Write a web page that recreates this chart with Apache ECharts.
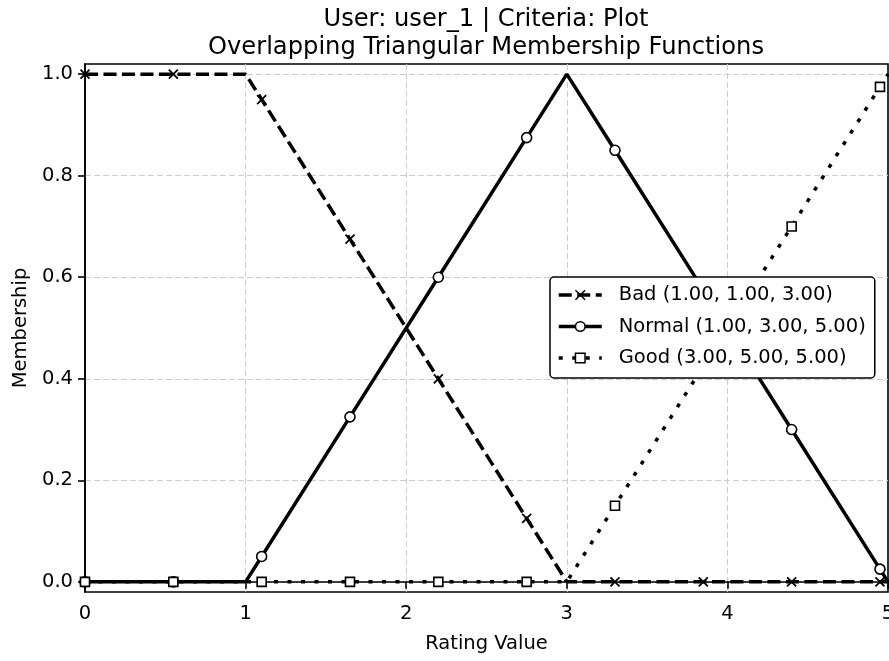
<!DOCTYPE html>
<html>
<head>
<meta charset="utf-8">
<script src="https://cdn.jsdelivr.net/npm/echarts@6/dist/echarts.min.js"></script>
<style>
html,body{margin:0;padding:0;background:#fff;}
#chart{width:889px;height:661px;}
</style>
</head>
<body>
<div id="chart"></div>
<script>
// ---- data ----
const titleLines = ['User: user_1 | Criteria: Plot', 'Overlapping Triangular Membership Functions'];
const seriesNames = ['Bad (1.00, 1.00, 3.00)', 'Normal (1.00, 3.00, 5.00)', 'Good (3.00, 5.00, 5.00)'];
const xTicks = [0, 1, 2, 3, 4, 5];
const yTicks = [0, 0.2, 0.4, 0.6, 0.8, 1.0];
// marker positions (x) and values
const markerX = [0, 0.55, 1.1, 1.65, 2.2, 2.75, 3.3, 3.85, 4.4, 4.95];
const badMarkers = [1, 1, 0.95, 0.675, 0.4, 0.125, 0, 0, 0, 0];
const normalMarkers = [0, 0, 0.05, 0.325, 0.6, 0.875, 0.85, 0.575, 0.3, 0.025];
const goodMarkers = [0, 0, 0, 0, 0, 0, 0.15, 0.425, 0.7, 0.975];
// line vertices (corners of the piecewise-linear curves)
const badVertices = [[0, 1], [1, 1], [3, 0], [5, 0]];
const normalVertices = [[0, 0], [1, 0], [3, 1], [5, 0]];
const goodVertices = [[0, 0], [3, 0], [5, 1]];

function buildData(vertices, markerValues) {
  const pts = [];
  markerX.forEach((x, i) => pts.push({ x: x, y: markerValues[i], marker: true }));
  vertices.forEach(v => {
    if (!markerX.some(mx => Math.abs(mx - v[0]) < 1e-9)) pts.push({ x: v[0], y: v[1], marker: false });
  });
  pts.sort((a, b) => a.x - b.x);
  return pts.map(p => p.marker ? { value: [p.x, p.y] } : { value: [p.x, p.y], symbol: 'none' });
}

const FONT = 'DejaVu Sans';
const xMark = 'path://M0,0L10,10M10,0L0,10';

const chart = echarts.init(document.getElementById('chart'), null, { renderer: 'canvas' });
chart.setOption({
  animation: false,
  backgroundColor: '#fff',
  title: {
    text: titleLines.join('\n'),
    left: 481,
    top: 1,
    textAlign: 'center',
    textStyle: { fontFamily: FONT, fontSize: 24.2, fontWeight: 'normal', color: '#000', lineHeight: 28 }
  },
  grid: {
    left: 85, top: 64, width: 803, height: 528,
    outerBoundsMode: 'none',
    containLabel: false,
    show: true, borderColor: '#000', borderWidth: 1.6, backgroundColor: 'transparent'
  },
  legend: {
    orient: 'vertical',
    left: 550,
    top: 277,
    z: 20,
    padding: [8, 9, 10, 7],
    itemWidth: 43,
    itemHeight: 12,
    itemGap: 11.5,
    backgroundColor: '#fff',
    borderColor: '#000',
    borderWidth: 1.5,
    borderRadius: 4,
    textStyle: { fontFamily: FONT, fontSize: 19.5, color: '#000', lineHeight: 20, padding: [0, 0, 0, 12] },
    lineStyle: { width: 3.5 },
    itemStyle: { borderWidth: 1.5 },
    data: seriesNames
  },
  xAxis: {
    type: 'value',
    min: 0, max: 5, interval: 1,
    name: 'Rating Value',
    nameLocation: 'middle',
    nameGap: 42,
    nameTextStyle: { fontFamily: FONT, fontSize: 19.5, color: '#000' },
    axisLine: { show: true, lineStyle: { color: '#000', width: 1.6 } },
    axisTick: { show: true, length: 7, lineStyle: { color: '#000', width: 1.6 } },
    axisLabel: { fontFamily: FONT, fontSize: 19.5, color: '#000', margin: 12, showMaxLabel: true, showMinLabel: true },
    splitLine: { show: true, showMinLine: false, showMaxLine: false, lineStyle: { color: '#cccccc', width: 1, type: [6, 3] } }
  },
  yAxis: {
    type: 'value',
    min: -0.02, max: 1.02,
    name: 'Membership',
    nameLocation: 'middle',
    nameGap: 54,
    nameTextStyle: { fontFamily: FONT, fontSize: 19.5, color: '#000' },
    axisLine: { show: true, onZero: false, lineStyle: { color: '#000', width: 1.6 } },
    axisTick: { show: true, length: 7, lineStyle: { color: '#000', width: 1.6 }, customValues: yTicks },
    axisLabel: { fontFamily: FONT, fontSize: 19.5, color: '#000', margin: 12, customValues: yTicks,
      formatter: v => v.toFixed(1) },
    splitLine: { show: true, lineStyle: { color: '#cccccc', width: 1, type: [6, 3] } }
  },
  series: [
    {
      name: seriesNames[0], type: 'line',
      data: buildData(badVertices, badMarkers),
      symbol: xMark, symbolSize: 9, showSymbol: true, showAllSymbol: true,
      lineStyle: { color: '#000', width: 3.5, type: [13, 5.5] },
      itemStyle: { color: '#000', borderColor: '#000', borderWidth: 1.8 },
      z: 2
    },
    {
      name: seriesNames[1], type: 'line',
      data: buildData(normalVertices, normalMarkers),
      symbol: 'circle', symbolSize: 10, showSymbol: true, showAllSymbol: true,
      lineStyle: { color: '#000', width: 3.5, type: 'solid' },
      itemStyle: { color: '#fff', borderColor: '#000', borderWidth: 1.6 },
      z: 3
    },
    {
      name: seriesNames[2], type: 'line',
      data: buildData(goodVertices, goodMarkers),
      symbol: 'rect', symbolSize: 9, showSymbol: true, showAllSymbol: true,
      lineStyle: { color: '#000', width: 3.5, type: [4, 9.5], cap: 'butt' },
      itemStyle: { color: '#fff', borderColor: '#000', borderWidth: 1.6 },
      z: 4
    }
  ]
});
</script>
</body>
</html>
